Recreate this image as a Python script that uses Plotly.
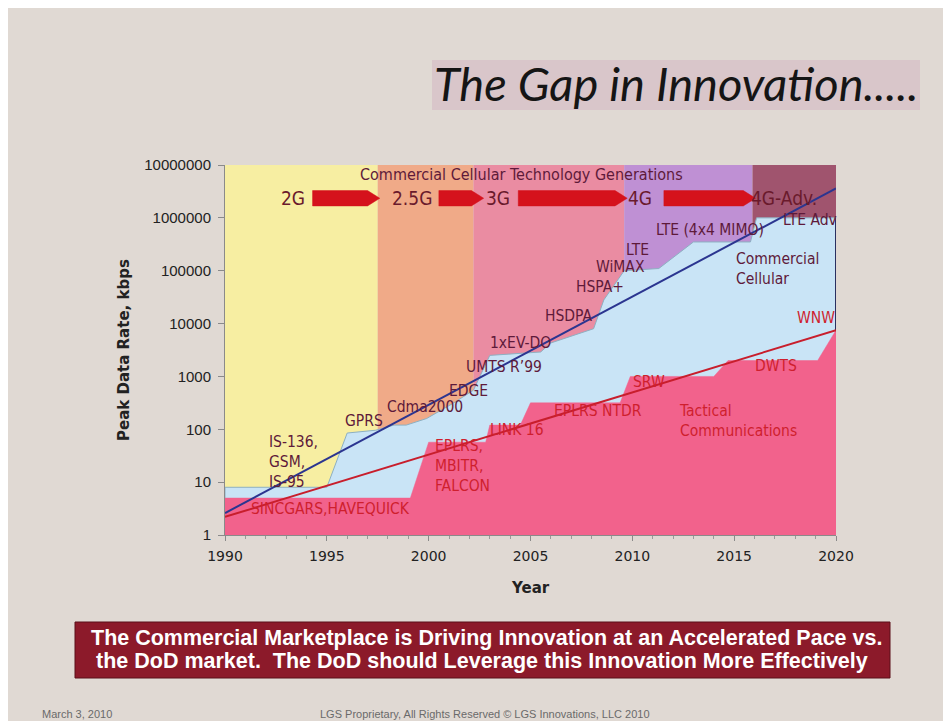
import math
import plotly.graph_objects as go

# ---------------- data ----------------
comm_years = [1990, 1995.0, 1996.0, 1997.4, 1998.3, 1998.9, 1999.9, 2001.2, 2002.2, 2003.0,
              2005.5, 2006.0, 2007.8, 2008.1, 2008.6, 2009.4, 2009.6, 2011.3, 2013.0,
              2015.8, 2016.1, 2020]
comm_rate = [8, 8, 85, 96, 120, 120, 160, 310, 550, 2500,
             2900, 4300, 7500, 8000, 28000, 76000, 100000, 110000, 350000,
             350000, 1000000, 1000000]

tact_years = [1990, 1999.1, 2000.0, 2002.8, 2003.0, 2004.5, 2005.0, 2009.4, 2009.9,
              2014.0, 2014.7, 2019.1, 2020]
tact_rate = [5, 5, 57, 57, 120, 120, 316, 316, 1000, 1000, 2000, 2000, 7500]

trend_years = [1990, 2020]
comm_trend = [2.6, 3.6e6]
tact_trend = [2.2, 7500]

gen_names = ["2G", "2.5G", "3G", "4G", "4G-Adv."]
gen_start = [1990, 1997.5, 2002.2, 2009.6, 2015.9]
gen_end = [1997.5, 2002.2, 2009.6, 2015.9, 2020]
gen_label_year = [1993.35, 1999.2, 2003.4, 2010.4, 2017.45]
gen_label_rate = 2.35e6

arrow_start = [1994.3, 2000.5, 2004.4, 2011.55]
arrow_end = [1997.6, 2002.7, 2009.75, 2016.05]

comm_labels = [
    ("LTE Adv", 2018.7, 9.3e5, "center"),
    ("LTE (4x4 MIMO)", 2013.8, 5.9e5, "center"),
    ("LTE", 2010.27, 2.45e5, "center"),
    ("WiMAX", 2009.43, 1.17e5, "center"),
    ("HSPA+", 2008.4, 4.9e4, "center"),
    ("HSDPA", 2006.87, 1.38e4, "center"),
    ("1xEV-DO", 2004.5, 4300, "center"),
    ("UMTS R\u201999", 2003.7, 1500, "center"),
    ("EDGE", 2001.95, 525, "center"),
    ("Cdma2000", 1999.84, 263, "center"),
    ("GPRS", 1996.84, 145, "center"),
    ("IS-136,<br>GSM,<br>IS-95", 1992.07, 24, "left"),
    ("Commercial<br>Cellular", 2015.0, 1.1e5, "left"),
]
tact_labels = [
    ("SINCGARS,HAVEQUICK", 1995.16, 3.1, "center"),
    ("EPLRS,<br>MBITR,<br>FALCON", 2000.23, 20, "left"),
    ("LINK 16", 2004.36, 95, "center"),
    ("EPLRS NTDR", 2008.3, 220, "center"),
    ("SRW", 2010.8, 780, "center"),
    ("Tactical<br>Communications", 2012.18, 141, "left"),
    ("DWTS", 2017.05, 1550, "center"),
    ("WNW", 2019.0, 12600, "center"),
]

y_tick_vals = [1, 10, 100, 1000, 10000, 100000, 1000000, 10000000]
y_tick_text = ["1", "10", "100", "1000", "10000", "100000", "1000000", "10000000"]
x_tick_vals = [1990, 1995, 2000, 2005, 2010, 2015, 2020]

banner_lines = ["The Commercial Marketplace is Driving Innovation at an Accelerated Pace vs.",
                "the DoD market.  The DoD should Leverage this Innovation More Effectively"]

# ---------------- styling ----------------
WIN_W, WIN_H = 951, 721
OFF = 8  # default page body margin
L, R, T, B = 225, 836, 165, 535
BG = "#E0D9D3"
band_colors = ["#F7EEA2", "#F0AA88", "#EA8CA2", "#BF90D4", "#A0546E"]
COMM_FILL = "#C9E4F6"
TACT_FILL = "#F2628C"
ARROW = "#D5121C"
LABEL_DARK = "#5E1A3A"
LABEL_RED = "#CF1F2E"
FONT = "DejaVu Sans Condensed, DejaVu Sans, sans-serif"
NARROW = "Liberation Sans Narrow, Liberation Sans, sans-serif"


def px2paper_x(px):
    return (px - L) / (R - L)


def px2paper_y(py):
    return (B - py) / (B - T)


fig = go.Figure()

# commercial cellular area
fig.add_trace(go.Scatter(
    x=[comm_years[0]] + comm_years + [comm_years[-1]],
    y=[1] + comm_rate + [1],
    fill="toself", fillcolor=COMM_FILL, mode="lines",
    line=dict(color="#8DB0C2", width=1), hoverinfo="skip", showlegend=False))
fig.add_trace(go.Scatter(
    x=[comm_years[-1], comm_years[-1]], y=[1, comm_rate[-1]],
    mode="lines", line=dict(color="#2A3060", width=2), hoverinfo="skip", showlegend=False))

# tactical area
fig.add_trace(go.Scatter(
    x=[tact_years[0]] + tact_years + [tact_years[-1]],
    y=[1] + tact_rate + [1],
    fill="toself", fillcolor=TACT_FILL, mode="lines",
    line=dict(color=TACT_FILL, width=0.5), hoverinfo="skip", showlegend=False))

# trend lines
fig.add_trace(go.Scatter(x=trend_years, y=comm_trend, mode="lines",
                         line=dict(color="#2B3590", width=2), hoverinfo="skip", showlegend=False))
fig.add_trace(go.Scatter(x=trend_years, y=tact_trend, mode="lines",
                         line=dict(color="#C81E2C", width=2), hoverinfo="skip", showlegend=False))

# arrows (pentagon shapes)
arrow_mid = math.log10(gen_label_rate)
half_h = 0.145
for x0, x1 in zip(arrow_start, arrow_end):
    tip = 0.6
    ys = [arrow_mid - half_h, arrow_mid - half_h, arrow_mid, arrow_mid + half_h, arrow_mid + half_h, arrow_mid - half_h]
    xs = [x0, x1 - tip, x1, x1 - tip, x0, x0]
    fig.add_trace(go.Scatter(x=xs, y=[10 ** v for v in ys], fill="toself", fillcolor=ARROW,
                             mode="lines", line=dict(color=ARROW, width=0.5),
                             hoverinfo="skip", showlegend=False))

shapes = []
for s, e, c in zip(gen_start, gen_end, band_colors):
    shapes.append(dict(type="rect", xref="x", yref="paper", x0=s, x1=e, y0=0, y1=1,
                       fillcolor=c, line=dict(width=0), layer="below"))
# title highlight
shapes.append(dict(type="rect", xref="paper", yref="paper",
                   x0=px2paper_x(432), x1=px2paper_x(920), y0=px2paper_y(110), y1=px2paper_y(60),
                   fillcolor="#D9C6CA", line=dict(width=0), layer="below"))
# banner box
shapes.append(dict(type="rect", xref="paper", yref="paper",
                   x0=px2paper_x(75), x1=px2paper_x(890), y0=px2paper_y(678), y1=px2paper_y(622),
                   fillcolor="#8C1A2A", line=dict(color="#5A0E18", width=1)))


def ann(text, x, y, xref="paper", yref="paper", size=14, color="#222", family=FONT,
        xanchor="center", align="center", **kw):
    return dict(text=text, x=x, y=y, xref=xref, yref=yref, showarrow=False,
                xanchor=xanchor, yanchor="middle", align=align,
                font=dict(family=family, size=size, color=color), **kw)


annotations = []
annotations.append(ann("Commercial Cellular Technology Generations", 2004.56, math.log10(6.5e6),
                       "x", "y", size=16, color=LABEL_DARK))
for name, xv in zip(gen_names, gen_label_year):
    annotations.append(ann(name, xv, math.log10(gen_label_rate), "x", "y", size=19, color="#6A1A2C"))
for txt, xv, yv, al in comm_labels:
    annotations.append(ann(txt, xv, math.log10(yv), "x", "y", size=15.5, color=LABEL_DARK,
                           xanchor="left" if al == "left" else "center", align=al))
for txt, xv, yv, al in tact_labels:
    annotations.append(ann(txt, xv, math.log10(yv), "x", "y", size=15.5, color=LABEL_RED,
                           xanchor="left" if al == "left" else "center", align=al))

# axis titles
annotations.append(ann("<b>Year</b>", px2paper_x(530), px2paper_y(588), size=15,
                       family="DejaVu Sans, sans-serif"))
annotations.append(ann("<b>Peak Data Rate, kbps</b>", px2paper_x(124), px2paper_y(350), size=15,
                       family="DejaVu Sans, sans-serif", textangle=-90))

# slide title
annotations.append(ann("<i>The Gap in Innovation.....</i>", px2paper_x(676), px2paper_y(83),
                       size=47, color="#151515", family="Lato, Open Sans, sans-serif"))

# banner text
annotations.append(ann("<b>" + banner_lines[0] + "</b>", px2paper_x(486), px2paper_y(638),
                       size=21.5, color="white", family=NARROW))
annotations.append(ann("<b>" + banner_lines[1] + "</b>", px2paper_x(482), px2paper_y(661),
                       size=21.5, color="white", family=NARROW))

# footer
annotations.append(ann("March 3, 2010", px2paper_x(40), px2paper_y(714), size=11,
                       color="#6A6A6A", family=NARROW, xanchor="left"))
annotations.append(ann("LGS Proprietary, All Rights Reserved \u00a9 LGS Innovations, LLC 2010",
                       px2paper_x(318), px2paper_y(714), size=11, color="#6A6A6A",
                       family=NARROW, xanchor="left"))

fig.update_layout(
    width=WIN_W - OFF, height=WIN_H - OFF, autosize=False,
    margin=dict(l=L - OFF, r=WIN_W - R, t=T - OFF, b=WIN_H - B, pad=0),
    paper_bgcolor=BG, plot_bgcolor=BG,
    shapes=shapes, annotations=annotations, showlegend=False,
    xaxis=dict(range=[1990, 2020], tickvals=x_tick_vals, showgrid=False, zeroline=False,
               showline=True, linecolor="#8A8A8A", linewidth=1,
               ticks="outside", ticklen=5, tickcolor="#8A8A8A", ticklabelstandoff=3,
               minor=dict(dtick=1, ticks="outside", ticklen=3, tickcolor="#9A9A9A"),
               tickfont=dict(family="DejaVu Sans, sans-serif", size=14, color="#222"),
               fixedrange=True),
    yaxis=dict(type="log", range=[0, 7], tickvals=y_tick_vals, ticktext=y_tick_text,
               showgrid=False, zeroline=False, showline=True, linecolor="#8A8A8A", linewidth=1,
               ticks="outside", ticklen=6, tickcolor="#8A8A8A", ticklabelstandoff=4,
               tickfont=dict(family="Liberation Sans, Arial, sans-serif", size=15, color="#222"),
               fixedrange=True),
)

fig.write_html("out.html")
